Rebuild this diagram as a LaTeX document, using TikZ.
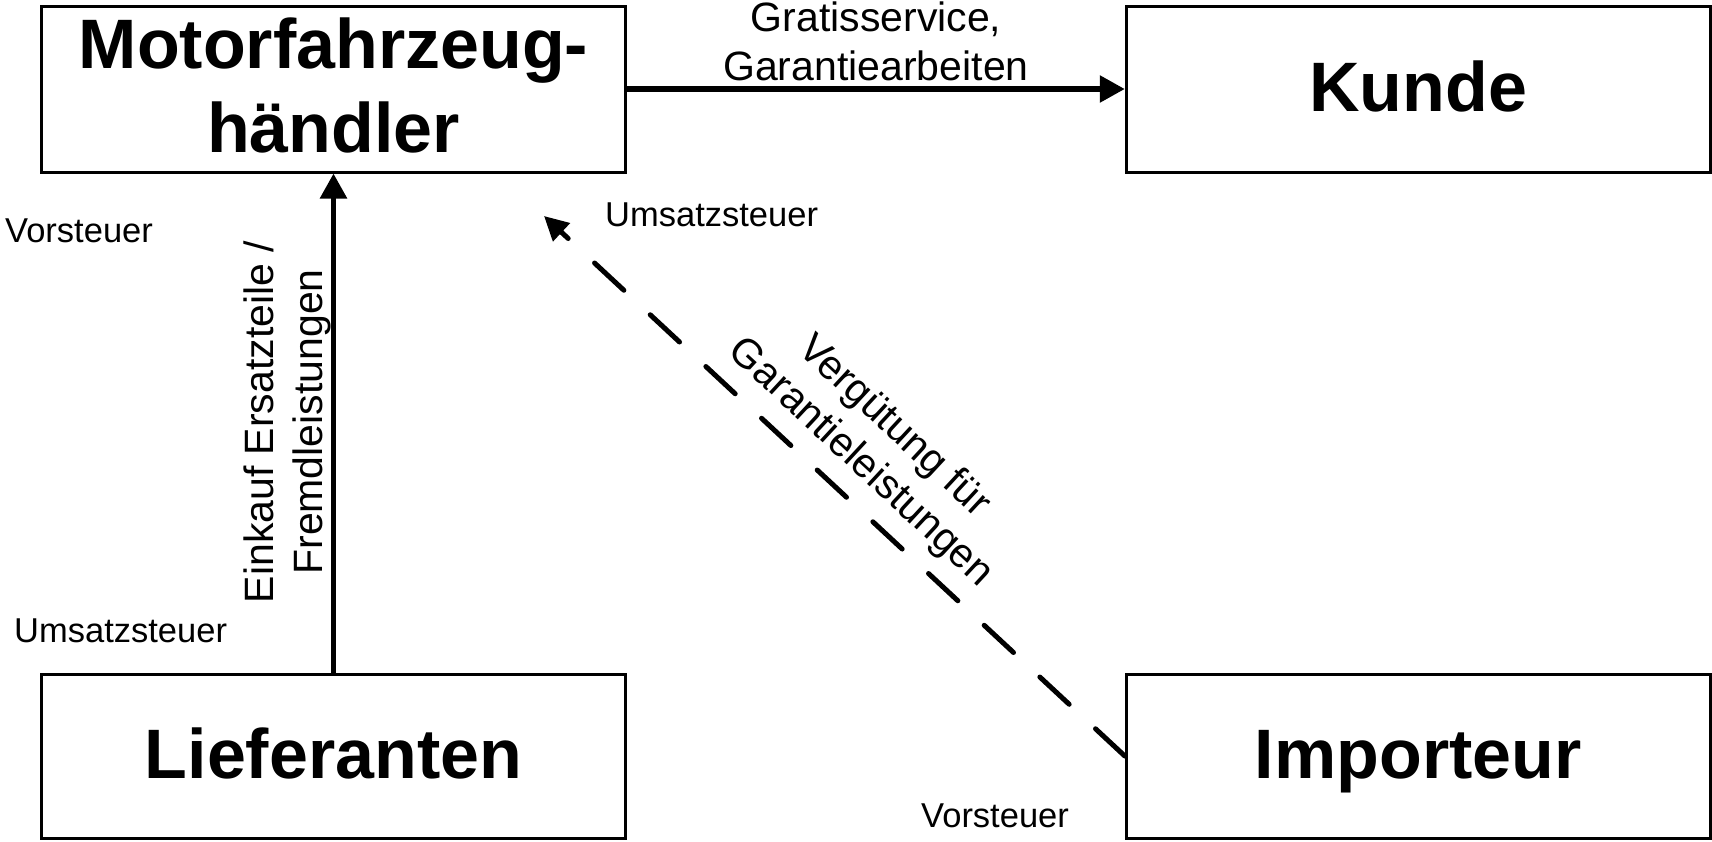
\documentclass[tikz,border=0pt]{standalone}
\usepackage{fontspec}
\setmainfont{Liberation Sans}
\usetikzlibrary{arrows.meta}
\begin{document}
\begin{tikzpicture}[x=1pt,y=-1pt,
  box/.style={draw, line width=3pt, rectangle, inner sep=0pt,
    minimum width=584pt, minimum height=166pt, align=center,
    font=\fontsize{70}{84}\selectfont\bfseries},
  onebox/.style={box, text height=45pt, text depth=0pt},
  solidarrow/.style={line width=5.5pt, line cap=round,
    -{Triangle[length=25pt,width=26pt]}},
  dasharrow/.style={line width=5pt, line cap=round,
    dash pattern=on 40pt off 36pt,
    -{Triangle[length=24pt,width=24pt]}},
  midlabel/.style={inner sep=0pt, align=center,
    font=\fontsize{41}{49}\selectfont},
  smalllabel/.style={inner sep=0pt, anchor=base west,
    font=\fontsize{34.5}{41}\selectfont}
]
\useasboundingbox (0,0) rectangle (1712,841);

\node[box] (mfh) at (333.5,89) {Motorfahrzeug-\\händler\rule[-7pt]{0pt}{0pt}};
\node[onebox] (kunde) at (1418.3,89) {Kunde};
\node[onebox, minimum height=164pt] (lief) at (333.5,756) {Lieferanten};
\node[onebox, minimum height=164pt] (imp) at (1418.3,756) {Importeur};

\coordinate (tip) at (544,216);

\draw[solidarrow] (mfh.east) -- (kunde.west);
\draw[solidarrow] (lief.north) -- (mfh.south);
\draw[dasharrow] (imp.west) -- (tip);

\node[midlabel] (gratis) at (876,41.3) {Gratisservice,\\Garantiearbeiten};
\node[midlabel, rotate=90] (einkauf) at (287,422) {Einkauf Ersatzteile /\\Fremdleistungen};
\node[midlabel, rotate=-42.8] (verg) at (877,445) {Vergütung für\\Garantieleistungen};

\node[smalllabel] (vst1) at (5,242.5) {Vorsteuer};
\node[smalllabel] (ust1) at (14,642) {Umsatzsteuer};
\node[smalllabel] (ust2) at (605,226) {Umsatzsteuer};
\node[smalllabel] (vst2) at (921,827) {Vorsteuer};
\end{tikzpicture}
\end{document}
